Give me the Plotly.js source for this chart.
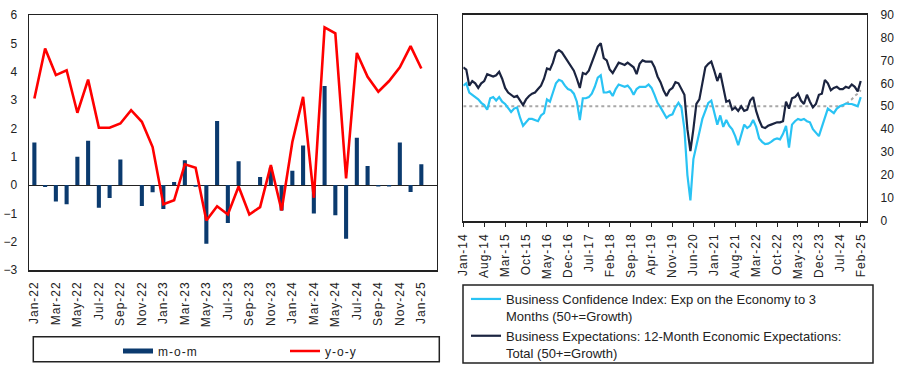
<!DOCTYPE html>
<html><head><meta charset="utf-8">
<script src="https://cdn.plot.ly/plotly-3.0.1.min.js"></script>
<style>
html,body{margin:0;padding:0;background:#fff;}
#chart{width:903px;height:369px;}
</style>
</head><body><div id="chart"></div>
<script>
// ---------- Left panel data ----------
const leftMonths = ['Jan-22','Feb-22','Mar-22','Apr-22','May-22','Jun-22','Jul-22','Aug-22','Sep-22','Oct-22','Nov-22','Dec-22',
  'Jan-23','Feb-23','Mar-23','Apr-23','May-23','Jun-23','Jul-23','Aug-23','Sep-23','Oct-23','Nov-23','Dec-23',
  'Jan-24','Feb-24','Mar-24','Apr-24','May-24','Jun-24','Jul-24','Aug-24','Sep-24','Oct-24','Nov-24','Dec-24','Jan-25'];
const momValues = [1.5,-0.07,-0.58,-0.68,1.0,1.56,-0.8,-0.46,0.9,0,-0.74,-0.26,
  -0.85,0.11,0.87,-0.06,-2.07,2.26,-1.34,0.84,0,0.28,0.62,-0.9,
  0.5,1.39,-1.01,3.49,-1.07,-1.9,1.67,0.67,-0.05,-0.05,1.5,-0.25,0.73];
const yoyValues = [3.05,4.82,3.88,4.05,2.55,3.72,2.02,2.02,2.17,2.64,2.23,1.34,
  -0.68,-0.54,0.73,0.61,-1.25,-0.75,-1.04,-0.05,-1.04,-0.78,0.7,-0.9,
  1.52,3.11,-0.45,5.56,5.35,0.23,4.66,3.82,3.29,3.67,4.15,4.9,4.11];
const leftTickLabels = ['Jan-22','Mar-22','May-22','Jul-22','Sep-22','Nov-22','Jan-23','Mar-23','May-23','Jul-23',
  'Sep-23','Nov-23','Jan-24','Mar-24','May-24','Jul-24','Sep-24','Nov-24','Jan-25'];

// ---------- Right panel data (monthly, Jan-14 .. Feb-25) ----------
const monthNames = ['Jan','Feb','Mar','Apr','May','Jun','Jul','Aug','Sep','Oct','Nov','Dec'];
const rightMonths = [];
for (let k = 0; k < 134; k++) {
  const y = 2014 + Math.floor(k / 12);
  rightMonths.push(monthNames[k % 12] + '-' + String(y).slice(2));
}
const rightTickLabels = ['Jan-14','Aug-14','Mar-15','Oct-15','May-16','Dec-16','Jul-17','Feb-18','Sep-18','Apr-19',
  'Nov-19','Jun-20','Jan-21','Aug-21','Mar-22','Oct-22','May-23','Dec-23','Jul-24','Feb-25'];
const confidence3m = [59,60,56,55,54,53,51.5,50.5,48.5,53.5,
  54,52.5,54,52,51,49,47.5,49,49.5,45,
  41.5,43,44.5,44.5,44,43.5,46,47,53,52,
  56,60,61.5,61,59,57.5,57,55.5,52,44,
  53.5,53.5,54,55.5,58.5,62.5,63.5,56,56,56.5,
  54.5,57.5,59.5,59,58.5,59,57.5,55,57.5,58.5,
  58.5,58.5,59.5,58,55,51.5,49.5,47.5,45,46,
  46.5,49.5,51.5,49.5,40,20,9,27,33,37.5,
  44.5,48,51.5,52.5,47,42,46,41,44,41.5,
  40,37,33,38,42,40.5,41.5,44,41,36,
  34.5,33.5,33.7,34.5,35.5,36,35.6,38,41.5,32,
  42,43.5,44.5,44,44.5,43.5,43,40,38.5,37,
  41,45,49,48,47,49,50,50.5,51.2,51,
  51,50.5,50,54];
const expectations12m = [67,66,59,61,60,58,60,61,64,63.5,
  63,63.5,65,62,58,56,55,54,54.5,52.5,
  50.5,53,54.5,55.5,56,57.5,59,62,66.5,66,
  69,73.5,74.5,73.5,71.5,69.5,67.5,65.5,62,58,
  64.5,64,65.5,69,72,76,77.5,71,70,66,
  64.5,66.5,69,68.5,68,69,68,67,64,68.5,
  70,69.5,69.5,69.5,67,63,60.5,57,54.5,57,
  58,60.5,60,57.5,55,40,30.5,40,51,53,
  60.5,67,68.5,69.5,65.5,61,64.5,58,52,52.5,
  48.5,49.5,48,50,48,48.5,52.5,54,48,44,
  41,40.5,41.5,42,42.5,43,43,43.5,52,49,
  53.5,54,55.5,52.5,51,55,52,49.5,51,55,
  55.5,61.5,60,57,58,58.5,57.5,57.5,58.5,58,
  59.5,58.5,56.5,61];
const thresholdTail = [51,52,53,54.5,55.5,57];
const threshold = rightMonths.map((m, k) => k < 128 ? 50 : thresholdTail[k - 128]);

// ---------- Traces ----------
const NAVY = '#0B3A6E', RED = '#FF0000', SKY = '#29C3F4', INK = '#1B2440';
const traces = [
  {type:'bar', x:leftMonths, y:momValues, xaxis:'x', yaxis:'y', marker:{color:NAVY}, showlegend:false, name:'m-o-m', hoverinfo:'skip'},
  {type:'scatter', mode:'lines', x:[null], y:[null], xaxis:'x', yaxis:'y', line:{color:NAVY, width:5}, name:'m-o-m', legend:'legend'},
  {type:'scatter', mode:'lines', x:leftMonths, y:yoyValues, xaxis:'x', yaxis:'y', line:{color:RED, width:2.6}, name:'y-o-y', legend:'legend'},
  {type:'scatter', mode:'lines', x:rightMonths, y:threshold, xaxis:'x2', yaxis:'y2', line:{color:'#A8A8A8', width:2, dash:'dot'}, showlegend:false},
  {type:'scatter', mode:'lines', x:rightMonths, y:confidence3m, xaxis:'x2', yaxis:'y2', line:{color:SKY, width:2.2},
    name:'Business Confidence Index: Exp on the Economy to 3<br>Months (50+=Growth)', legend:'legend2'},
  {type:'scatter', mode:'lines', x:rightMonths, y:expectations12m, xaxis:'x2', yaxis:'y2', line:{color:INK, width:2.2},
    name:'Business Expectations: 12-Month Economic Expectations:<br>Total (50+=Growth)', legend:'legend2'}
];

const W = 903, H = 369;
const px = v => v / W, py = v => 1 - v / H;
const layout = {
  width:W, height:H, margin:{l:0,r:0,t:0,b:0},
  paper_bgcolor:'#fff', plot_bgcolor:'#fff',
  font:{family:'Liberation Sans, Arial, sans-serif', size:12, color:'#222'},
  bargap:0.62,
  xaxis:{domain:[px(29), px(436.7)], anchor:'y', type:'category', range:[-0.5, 37.43],
    tickmode:'array', tickvals:leftTickLabels, ticktext:leftTickLabels, tickangle:-90,
    showline:true, mirror:true, linecolor:'#222', linewidth:1.5, showgrid:false, ticks:'',
    tickfont:{size:12}, ticklabelstandoff:5},
  yaxis:{domain:[py(270), py(15)], anchor:'x', range:[-3,6], dtick:1, tick0:0,
    showline:true, mirror:true, linecolor:'#222', linewidth:1.5, showgrid:false,
    zeroline:true, zerolinecolor:'#222', zerolinewidth:1, ticks:'', tickfont:{size:12}, ticklabelstandoff:8},
  xaxis2:{domain:[px(463.3), px(866.7)], anchor:'y2', type:'category', range:[0, 135],
    tickmode:'array', tickvals:rightTickLabels, ticktext:rightTickLabels, tickangle:-90,
    ticks:'outside', ticklen:4, tickcolor:'#222', showline:true, mirror:true, linecolor:'#222', linewidth:1.5,
    showgrid:false, tickfont:{size:12}, ticklabelstandoff:2},
  yaxis2:{domain:[py(221), py(14.5)], anchor:'x2', side:'right', range:[0,90], dtick:10, tick0:0,
    showline:true, mirror:true, linecolor:'#222', linewidth:1.5, showgrid:false, zeroline:false,
    ticks:'', tickfont:{size:12}, ticklabelstandoff:10},
  legend:{orientation:'h', x:px(118), xanchor:'left', y:py(351), yanchor:'middle',
    entrywidth:122, entrywidthmode:'pixels', bgcolor:'rgba(0,0,0,0)', borderwidth:0, font:{size:12}},
  legend2:{orientation:'v', x:px(466), xanchor:'left', y:py(284), yanchor:'top', valign:'top',
    bgcolor:'rgba(0,0,0,0)', borderwidth:0, font:{size:13}, tracegroupgap:0},
  shapes:[
    {type:'rect', xref:'paper', yref:'paper', x0:px(33.3), x1:px(439.3), y0:py(361.7), y1:py(336.7), line:{color:'#222', width:1.5}},
    {type:'rect', xref:'paper', yref:'paper', x0:px(463), x1:px(873), y0:py(363), y1:py(285), line:{color:'#222', width:1.5}}
  ]
};
Plotly.newPlot('chart', traces, layout, {displayModeBar:false, staticPlot:true}).then(gd => {
  // widen legend and tick text slightly to match the stretched lettering of the original
  gd.querySelectorAll('text.legendtext').forEach(t => {
    const wide = t.textContent.length > 20;
    t.style.setProperty('letter-spacing', wide ? '0.5px' : '1px', 'important');
  });
  gd.querySelectorAll('g.xtick text, g.x2tick text').forEach(t => {
    t.style.setProperty('letter-spacing', '1px', 'important');
  });
});
</script></body></html>
